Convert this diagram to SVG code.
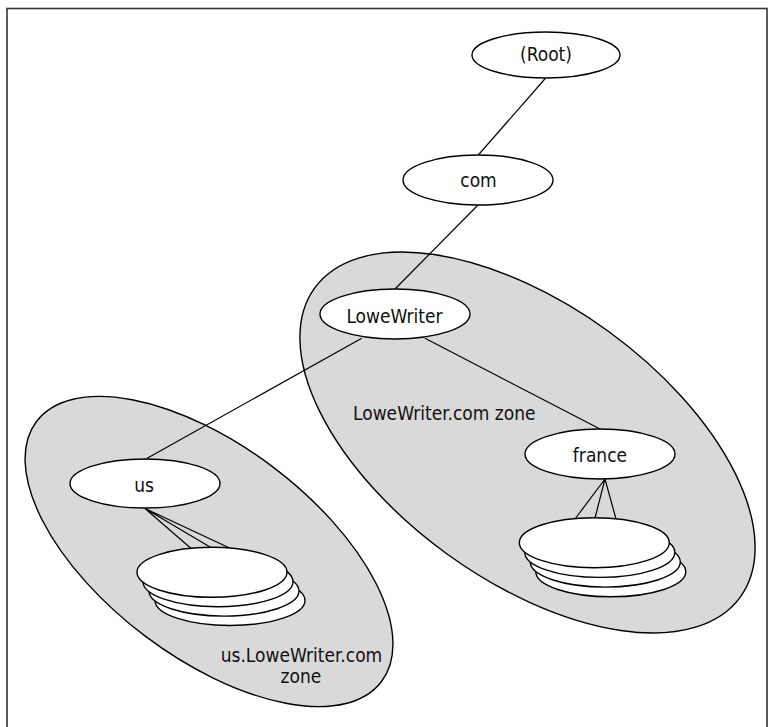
<svg xmlns="http://www.w3.org/2000/svg" width="769" height="727" viewBox="0 0 769 727">
<style>
.zone{fill:#d9d9d9;stroke:#000;stroke-width:1.4}
.node{fill:#fff;stroke:#000;stroke-width:1.4}
.conn{stroke:#000;stroke-width:1.2;fill:none}
text{font-family:"DejaVu Sans Condensed","DejaVu Sans","Liberation Sans",sans-serif;font-stretch:condensed;font-size:19px;fill:#111}
.c{text-anchor:middle}
</style>
<rect width="769" height="727" fill="#fff"/>
<rect x="7" y="8.5" width="760" height="740" fill="none" stroke="#333" stroke-width="1.6"/>
<g id="zone-lowewriter">
<ellipse class="zone" cx="0" cy="0" rx="263" ry="137.5" transform="translate(527.5 442.5) rotate(36)"/>
<text x="353" y="420">LoweWriter.com zone</text>
</g>
<g id="zone-us">
<ellipse class="zone" cx="0" cy="0" rx="216" ry="106" transform="translate(209 551.5) rotate(37)"/>
<text class="c" x="301.5" y="661.7">us.LoweWriter.com</text>
<text class="c" x="301" y="683.3">zone</text>
</g>
<g id="connectors">
<line class="conn" x1="545.7" y1="78" x2="478.3" y2="155"/>
<line class="conn" x1="478" y1="205" x2="395" y2="289"/>
<line class="conn" x1="361.7" y1="338.3" x2="146.7" y2="458.5"/>
<line class="conn" x1="425" y1="338.3" x2="600" y2="429"/>
<path class="conn" d="M145 508.5L191.7 549M145 508.5L211.7 548M145 508.5L231.7 549"/>
<path class="conn" d="M605 479L575 519M605 479L595 518M605 479L616 519"/>
</g>
<g id="root">
<ellipse class="node" cx="546" cy="55" rx="74" ry="23"/>
<text class="c" x="546" y="61">(Root)</text>
</g>
<g id="com">
<ellipse class="node" cx="478" cy="180" rx="75" ry="25"/>
<text class="c" x="478.5" y="187.3">com</text>
</g>
<g id="lowewriter">
<ellipse class="node" cx="395" cy="314" rx="75" ry="25"/>
<text class="c" x="394.5" y="322.7">LoweWriter</text>
</g>
<g id="us">
<ellipse class="node" cx="145" cy="483.5" rx="75" ry="24.5"/>
<text class="c" x="144" y="491.7">us</text>
</g>
<g id="france">
<ellipse class="node" cx="600" cy="454" rx="75" ry="25"/>
<text class="c" x="600" y="461.7">france</text>
</g>
<g id="us-servers">
<ellipse class="node" cx="230" cy="600.5" rx="75" ry="25"/>
<ellipse class="node" cx="224" cy="591.1" rx="75" ry="25"/>
<ellipse class="node" cx="218" cy="581.7" rx="75" ry="25"/>
<ellipse class="node" cx="212" cy="572.3" rx="75" ry="25"/>
</g>
<g id="france-servers">
<ellipse class="node" cx="610.8" cy="571.8" rx="75" ry="25"/>
<ellipse class="node" cx="605.3" cy="562.1" rx="75" ry="25"/>
<ellipse class="node" cx="599.8" cy="552.4" rx="75" ry="25"/>
<ellipse class="node" cx="594.3" cy="542.7" rx="75" ry="25"/>
</g>
</svg>
